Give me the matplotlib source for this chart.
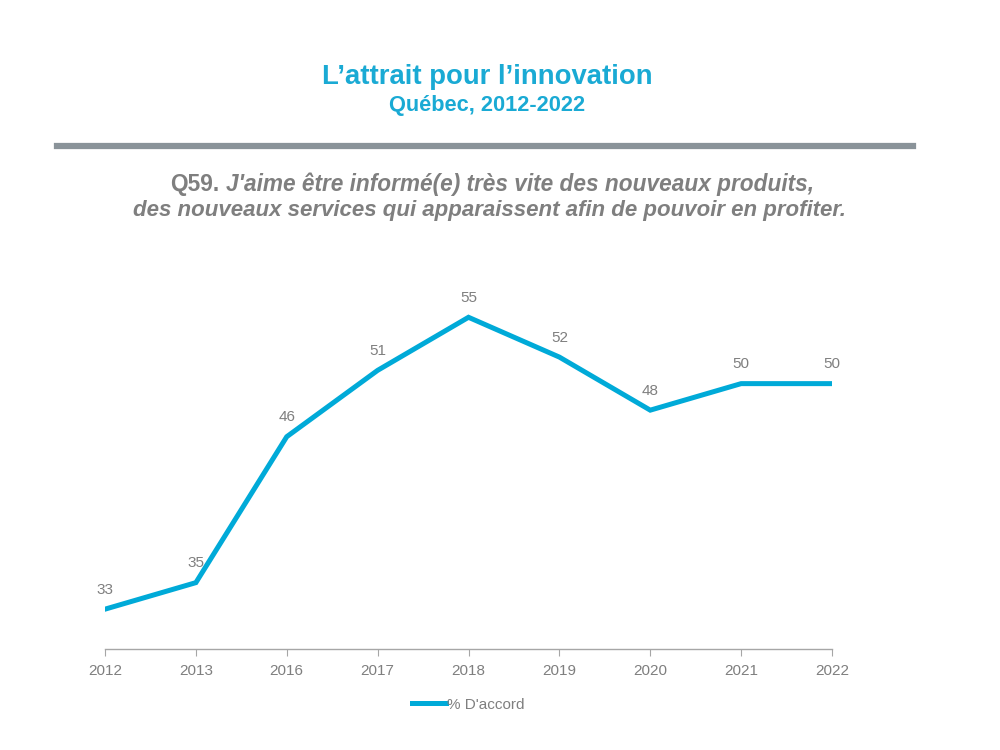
import numpy as np
import matplotlib
matplotlib.use('Agg')
import matplotlib.pyplot as plt

plt.rcParams['font.family'] = ['Liberation Sans', 'DejaVu Sans']

years = ['2012', '2013', '2016', '2017', '2018', '2019', '2020', '2021', '2022']
accord = [33, 35, 46, 51, 55, 52, 48, 50, 50]

blue = '#00AAD8'
grey = '#7F7F7F'

fig = plt.figure(figsize=(10, 7.5), dpi=100)

# titles
fig.text(0.487, 0.897, "L\u2019attrait pour l\u2019innovation", ha='center', va='center',
         fontsize=19.8, fontweight='bold', color='#1AAAD4')
fig.text(0.487, 0.860, "Québec, 2012-2022", ha='center', va='center',
         fontsize=15.7, fontweight='bold', color='#1AAAD4')

# separator bar
fig.add_artist(plt.Line2D([0.057, 0.913], [0.805, 0.805], color='#8A9399', lw=4.5,
                          transform=fig.transFigure))

# question
fig.text(0.219, 0.746, "Q59.", ha='right', va='baseline', fontsize=16.3,
         fontweight='bold', color=grey)
fig.text(0.226, 0.746, "J'aime être informé(e) très vite des nouveaux produits,",
         ha='left', va='baseline', fontsize=16.3, fontweight='bold', style='italic', color=grey)
fig.text(0.489, 0.719, "des nouveaux services qui apparaissent afin de pouvoir en profiter.",
         ha='center', va='center', fontsize=16, fontweight='bold', style='italic', color=grey)

ax = fig.add_axes([0.105, 0.1347, 0.727, 0.5307])
x = np.arange(len(years))
ax.plot(x, accord, color=blue, lw=3.6, solid_joinstyle='miter', label="% D'accord")
for xi, v in zip(x, accord):
    ax.annotate(str(v), (xi, v), xytext=(0, 9), textcoords='offset points',
                ha='center', va='bottom', fontsize=11, color=grey)

ax.set_xlim(0, len(years) - 1)
ax.set_ylim(30, 60)
ax.set_xticks(x)
ax.set_xticklabels(years, fontsize=11, color=grey)
ax.set_yticks([])
for s in ['top', 'right', 'left']:
    ax.spines[s].set_visible(False)
ax.spines['bottom'].set_color('#A6A6A6')
ax.spines['bottom'].set_linewidth(1)
ax.spines['bottom'].set_clip_on(False)
ax.tick_params(axis='x', length=5, color='#A6A6A6', pad=6)

leg = ax.legend(loc='center', bbox_to_anchor=(0.5, -0.14), frameon=False,
                fontsize=11, handlelength=2.2, handletextpad=0.1)
for t in leg.get_texts():
    t.set_color(grey)

fig.savefig('out.png', dpi=100, facecolor='white')
